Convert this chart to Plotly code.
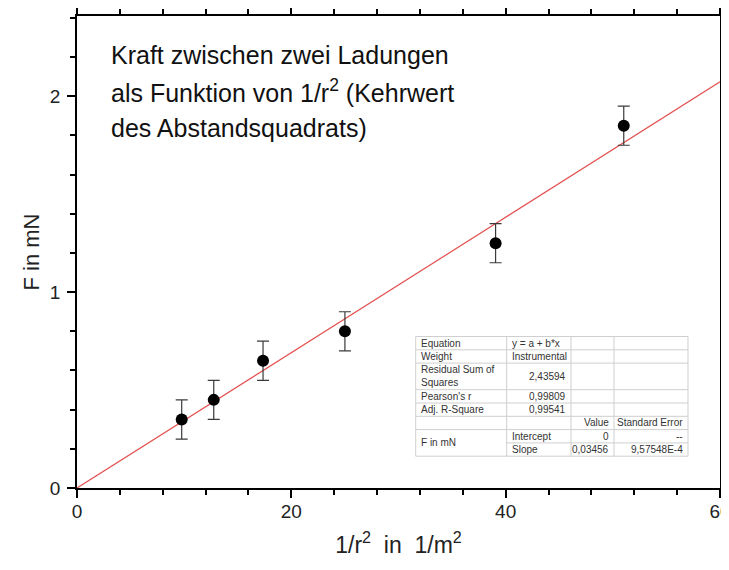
import plotly.graph_objects as go

# ---- data ----
inv_r2 = [9.77, 12.76, 17.36, 25.0, 39.06, 51.02]          # 1/r^2 in 1/m^2
force = [0.35, 0.45, 0.65, 0.80, 1.25, 1.85]                # F in mN
force_err = [0.1, 0.1, 0.1, 0.1, 0.1, 0.1]
fit_slope = 0.03456
fit_intercept = 0.0
fit_x = [0, 60]
fit_y = [fit_intercept + fit_slope * v for v in fit_x]

table_rows = [
    ["Equation", "y = a + b*x", "", ""],
    ["Weight", "Instrumental", "", ""],
    ["Residual Sum of<br>Squares", "2,43594", "", ""],
    ["Pearson's r", "0,99809", "", ""],
    ["Adj. R-Square", "0,99541", "", ""],
    ["", "", "Value", "Standard Error"],
    ["F in mN", "Intercept", "0", "--"],
    ["", "Slope", "0,03456", "9,57548E-4"],
]

OFF = 8                      # page body margin
W, H = 729 - 2 * OFF, 570 - 2 * OFF
L, T = 69, 8
R = W - (720 - OFF)
B = H - (488 - OFF)
pw, ph = W - L - R, H - T - B

def px(x):
    return (x - OFF - L) / pw

def py(y):
    return (H - B - (y - OFF)) / ph

FONT = "Liberation Sans, Arial, sans-serif"

fig = go.Figure()
fig.add_trace(go.Scatter(x=fit_x, y=fit_y, mode="lines",
                         line=dict(color="#e34f4f", width=1.2), showlegend=False,
                         hoverinfo="skip"))
fig.add_trace(go.Scatter(x=inv_r2, y=force, mode="markers",
                         marker=dict(color="black", size=12),
                         error_y=dict(type="data", array=force_err, visible=True,
                                      color="#3a3a3a", thickness=1.2, width=6),
                         showlegend=False))

axis_common = dict(showline=True, linecolor="black", linewidth=1.6, mirror="allticks",
                   ticks="outside", ticklen=8, tickwidth=1.6, tickcolor="black",
                   showgrid=False, zeroline=False, automargin=False,
                   tickfont=dict(family=FONT, size=19, color="#222"),
                   ticklabeloverflow="allow", tickmode="linear", tick0=0)

fig.update_xaxes(range=[0, 60], dtick=20, ticklabelstandoff=-3,
                 minor=dict(tickmode="linear", tick0=0, dtick=4, ticks="outside", ticklen=5,
                            tickwidth=1.6, tickcolor="black", showgrid=False),
                 title=dict(text="1/r<sup>2</sup>\u00a0\u00a0in\u00a0\u00a01/m<sup>2</sup>",
                            font=dict(family=FONT, size=23, color="#222"), standoff=16),
                 **axis_common)
fig.update_yaxes(range=[0, 2.41], dtick=1, ticklabelstandoff=3,
                 minor=dict(tickmode="linear", tick0=0, dtick=0.2, ticks="outside", ticklen=5,
                            tickwidth=1.6, tickcolor="black", showgrid=False),
                 title=dict(text="F in mN", font=dict(family=FONT, size=22, color="#222"), standoff=4),
                 **axis_common)

annotations = []
# Title text block
title_lines = ["Kraft zwischen zwei Ladungen",
               "als Funktion von 1/r<sup>2</sup> (Kehrwert",
               "des Abstandsquadrats)"]
for i, t in enumerate(title_lines):
    annotations.append(dict(text=t, x=px(109), y=py(55 + i * 36.5), xref="paper", yref="paper",
                            xanchor="left", yanchor="middle", showarrow=False,
                            font=dict(family=FONT, size=25, color="#111")))

# Table
tl, tr = 415.7, 688.0
cols = [415.7, 506.7, 571.0, 614.0, 688.0]
top = 336.5
rh = 13.3
units = [1, 1, 2, 1, 1, 1, 1, 1]
bounds = [top]
for u in units:
    bounds.append(bounds[-1] + u * rh)
bottom = bounds[-1]

shapes = []
grid = dict(color="#cfcfcf", width=1)
shapes.append(dict(type="rect", xref="paper", yref="paper", x0=px(tl), x1=px(tr),
                   y0=py(top), y1=py(bottom), fillcolor="white", line=grid, layer="above"))
for c in cols[1:-1]:
    shapes.append(dict(type="line", xref="paper", yref="paper", x0=px(c), x1=px(c),
                       y0=py(top), y1=py(bottom), line=grid, layer="above"))
for i, b in enumerate(bounds[1:-1], start=1):
    x0 = cols[1] if i == 7 else tl
    shapes.append(dict(type="line", xref="paper", yref="paper", x0=px(x0), x1=px(tr),
                       y0=py(b), y1=py(b), line=grid, layer="above"))

tfont = dict(family=FONT, size=10, color="#333")
for r, row in enumerate(table_rows):
    yc = (bounds[r] + bounds[r + 1]) / 2
    for c, txt in enumerate(row):
        if not txt:
            continue
        y_here = yc
        if r == 6 and c == 0:
            y_here = bounds[7]
        numeric = txt[0].isdigit() or txt in ("--",) or txt in ("Value", "Standard Error")
        if c >= 1 and numeric:
            x, anchor = px(cols[c + 1] - 3), "right"
        else:
            x, anchor = px(cols[c] + 3), "left"
        annotations.append(dict(text=txt, x=x, y=py(y_here), xref="paper", yref="paper",
                                xanchor=anchor, yanchor="middle", showarrow=False,
                                align="left", font=tfont))

fig.update_layout(width=W, height=H, margin=dict(l=L, r=R, t=T, b=B),
                  plot_bgcolor="white", paper_bgcolor="white",
                  annotations=annotations, shapes=shapes,
                  font=dict(family=FONT))

fig.write_html("out.html")
